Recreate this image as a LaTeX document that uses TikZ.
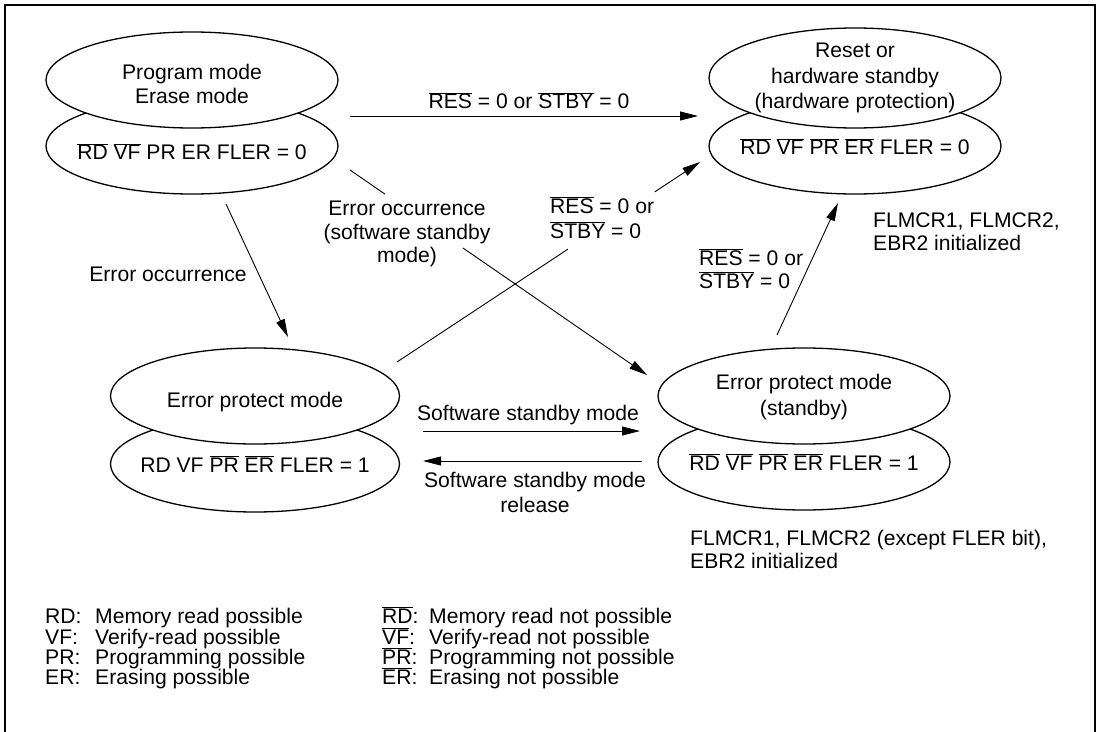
\documentclass[tikz,border=0pt]{standalone}
\usepackage{fontspec}
\setmainfont{Liberation Sans}
\usetikzlibrary{arrows.meta,shapes.geometric,calc}
\newcommand\ovl[1]{\ensuremath{\overline{\hbox{#1}}}}
\begin{document}
\begin{tikzpicture}[x=1bp,y=-1bp,
  every node/.style={font=\fontsize{21.2}{24}\selectfont, inner sep=0pt},
  one/.style={text height=19bp, text depth=5bp},
  st/.style={draw, ellipse, line width=1.3bp, fill=white, minimum width=292bp, minimum height=96bp},
  conn/.style={line width=0.9bp},
  arr/.style={conn, -{Triangle[length=18bp,width=9bp]}},
  ]
\useasboundingbox (0,0) rectangle (1100,732);
% frame
\draw[line width=1.2bp] (5,732) -- (5,5) -- (1095,5) -- (1095,732);

% Program / Erase mode
\node[st] (PEl) at (192,146) {};
\node[st] (PEu) at (192,80) {};
\node[align=center] (PEt) at (192,84) {Program mode\\Erase mode};
\node[one] (PEb) at (192,153) {\ovl{RD} \ovl{VF} PR ER FLER = 0};

% Reset / hardware standby
\node[st] (RHl) at (855,146) {};
\node[st, minimum height=100bp] (RHu) at (855,78) {};
\node[align=center, font=\fontsize{21.2}{25.5}\selectfont] (RHt) at (855,78) {Reset or\\hardware standby\\(hardware protection)};
\node[one] (RHb) at (855,148) {\ovl{RD} \ovl{VF} \ovl{PR} \ovl{ER} FLER = 0};

% Error protect mode
\node[st, minimum width=289bp] (EPl) at (255,464) {};
\node[st, minimum width=289bp] (EPu) at (255,396) {};
\node[one] (EPt) at (255,400) {Error protect mode};
\node[one] (EPb) at (255,465) {RD VF \ovl{PR} \ovl{ER} FLER = 1};

% Error protect mode (standby)
\node[st] (ESl) at (804,462) {};
\node[st] (ESu) at (804,396) {};
\node[align=center, font=\fontsize{21.2}{27}\selectfont] (ESt) at (804,397) {Error protect mode\\(standby)};
\node[one] (ESb) at (804,463) {\ovl{RD} \ovl{VF} \ovl{PR} \ovl{ER} FLER = 1};

% connector A
\coordinate (a1) at (350,116); \coordinate (a2) at (698,116);
\draw[arr] (a1) -- (a2);
\node[one] (aL) at (529,102) {\ovl{RES} = 0 or \ovl{STBY} = 0};

% connector B
\coordinate (b1) at (350,170); \coordinate (b2) at (647,375);
\draw[conn] (b1) -- ($(b1)!0.118!(b2)$);
\draw[arr] ($(b1)!0.38!(b2)$) -- (b2);
\node[align=center, font=\fontsize{21.2}{23.5}\selectfont] (bL) at (407,234) {Error occurrence\\(software standby\\mode)};

% connector C
\coordinate (c1) at (397,362); \coordinate (c2) at (700,162);
\draw[conn] (c1) -- ($(c1)!0.564!(c2)$);
\draw[arr] ($(c1)!0.851!(c2)$) -- (c2);
\node[align=left, anchor=west, font=\fontsize{21.2}{25}\selectfont] (cL) at (550,218) {\ovl{RES} = 0 or\\\ovl{STBY} = 0};

% connector D
\coordinate (d1) at (226,204); \coordinate (d2) at (288,337);
\draw[arr] (d1) -- (d2);
\node[one] (dL) at (168,274) {Error occurrence};

% connector E
\coordinate (e1) at (423,431); \coordinate (e2) at (640,431);
\draw[arr] (e1) -- (e2);
\node[one] (eL) at (528,413) {Software standby mode};

% connector F
\coordinate (f1) at (642,461); \coordinate (f2) at (423,461);
\draw[arr] (f1) -- (f2);
\node[align=center, font=\fontsize{21.2}{25}\selectfont] (fL) at (535,492) {Software standby mode\\release};

% connector G
\coordinate (g1) at (777,335); \coordinate (g2) at (838,203);
\draw[arr] (g1) -- (g2);
\node[align=left, anchor=west, font=\fontsize{21.2}{23}\selectfont] (gL) at (699,269) {\ovl{RES} = 0 or\\\ovl{STBY} = 0};

% notes
\node[align=left, anchor=west, font=\fontsize{21.2}{23}\selectfont] (hN) at (873,232) {FLMCR1, FLMCR2,\\EBR2 initialized};
\node[align=left, anchor=west, font=\fontsize{21.2}{23}\selectfont] (iN) at (690,549) {FLMCR1, FLMCR2 (except FLER bit),\\EBR2 initialized};

% legend
\node[one, anchor=west] (l1) at (45,616) {\makebox[50bp][l]{RD:}Memory read possible};
\node[one, anchor=west] (l2) at (45,637) {\makebox[50bp][l]{VF:}Verify-read possible};
\node[one, anchor=west] (l3) at (45,657) {\makebox[50bp][l]{PR:}Programming possible};
\node[one, anchor=west] (l4) at (45,677) {\makebox[50bp][l]{ER:}Erasing possible};
\node[one, anchor=west] (r1) at (382,616) {\makebox[47bp][l]{\ovl{RD}:}Memory read not possible};
\node[one, anchor=west] (r2) at (382,637) {\makebox[47bp][l]{\ovl{VF}:}Verify-read not possible};
\node[one, anchor=west] (r3) at (382,657) {\makebox[47bp][l]{\ovl{PR}:}Programming not possible};
\node[one, anchor=west] (r4) at (382,677) {\makebox[47bp][l]{\ovl{ER}:}Erasing not possible};
\end{tikzpicture}
\end{document}
